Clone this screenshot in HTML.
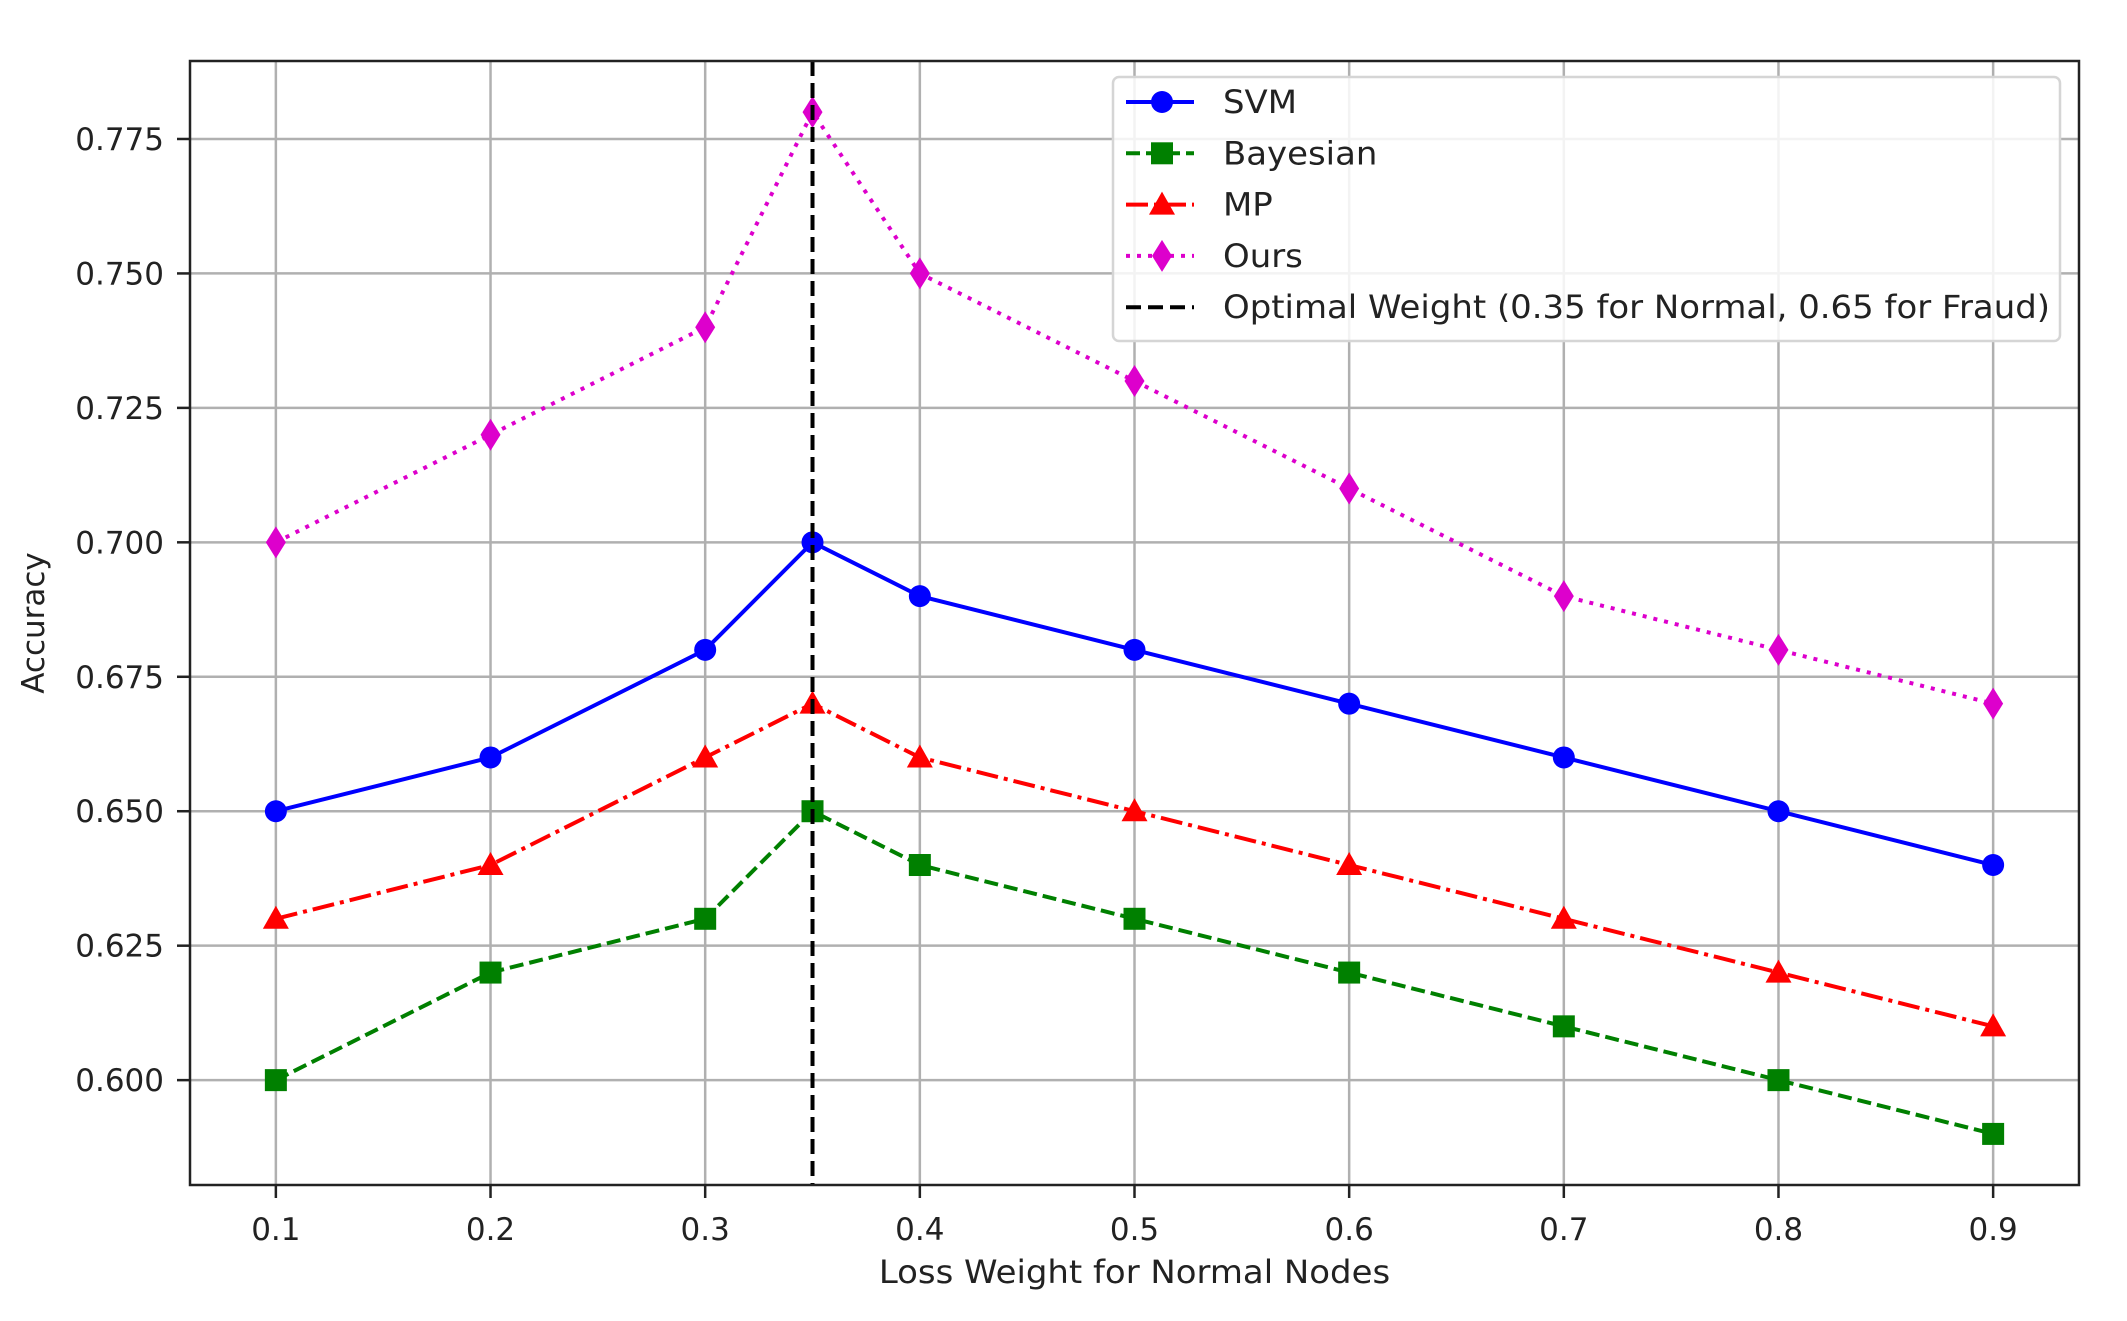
<!DOCTYPE html>
<html><head><meta charset="utf-8"><style>
body{margin:0;background:#fff;}
svg{display:block;font-family:"DejaVu Sans","Liberation Sans",sans-serif;}
</style></head><body>
<svg id="chart" width="2127" height="1321" viewBox="0 0 2127 1321" xmlns="http://www.w3.org/2000/svg">
<g id="grid"></g>
<g id="series"></g>
<g id="axes"></g>
<g id="legend"></g>
</svg>
<script>
const xValues = [0.1,0.2,0.3,0.4,0.5,0.6,0.7,0.8,0.9];
const xPts = [0.1,0.2,0.3,0.35,0.4,0.5,0.6,0.7,0.8,0.9];
const svmValues = [0.65,0.66,0.68,0.70,0.69,0.68,0.67,0.66,0.65,0.64];
const bayesValues = [0.60,0.62,0.63,0.65,0.64,0.63,0.62,0.61,0.60,0.59];
const mpValues = [0.63,0.64,0.66,0.67,0.66,0.65,0.64,0.63,0.62,0.61];
const oursValues = [0.70,0.72,0.74,0.78,0.75,0.73,0.71,0.69,0.68,0.67];
const yTicks = [0.600,0.625,0.650,0.675,0.700,0.725,0.750,0.775];
const xTickLabels = ["0.1","0.2","0.3","0.4","0.5","0.6","0.7","0.8","0.9"];
const yTickLabels = ["0.600","0.625","0.650","0.675","0.700","0.725","0.750","0.775"];
const optimalWeight = 0.35;

const NS="http://www.w3.org/2000/svg";
const L=190,R=2079,T=61,B=1185;
const xMin=0.06,xMax=0.94,yMin=0.5805,yMax=0.7895;
const xs=v=>L+(v-xMin)/(xMax-xMin)*(R-L);
const ys=v=>B-(v-yMin)/(yMax-yMin)*(B-T);
function mk(tag,attrs,parent){const e=document.createElementNS(NS,tag);for(const k in attrs)e.setAttribute(k,attrs[k]);parent.appendChild(e);return e;}
const grid=document.getElementById('grid'),series=document.getElementById('series'),axes=document.getElementById('axes'),legend=document.getElementById('legend');

xValues.forEach((v,i)=>{
  const g=mk('line',{x1:xs(v),x2:xs(v),y1:T,y2:B,stroke:'#b0b0b0','stroke-width':2.5},grid);
  
  
  const t=mk('line',{x1:xs(v),x2:xs(v),y1:B,y2:B+13,stroke:'#222','stroke-width':2.5},axes);
  
  
  const tx=mk('text',{x:xs(v),y:B+55,'text-anchor':'middle','font-size':31,fill:'#222'},axes);
  tx.textContent=xTickLabels[i];
  
  
});
yTicks.forEach((v,i)=>{
  const g=mk('line',{x1:L,x2:R,y1:ys(v),y2:ys(v),stroke:'#b0b0b0','stroke-width':2.5},grid);
  
  
  const t=mk('line',{x1:L-13,x2:L,y1:ys(v),y2:ys(v),stroke:'#222','stroke-width':2.5},axes);
  
  
  const tx=mk('text',{x:L-26,y:ys(v)+11,'text-anchor':'end','font-size':31,fill:'#222'},axes);
  tx.textContent=yTickLabels[i];
  
  
});

function marker(type,cx,cy,color,parent,s){
  s=s||1;let e;
  if(type==='o') e=mk('circle',{cx:cx,cy:cy,r:11*s,fill:color},parent);
  else if(type==='s') e=mk('rect',{x:cx-11*s,y:cy-11*s,width:22*s,height:22*s,fill:color},parent);
  else if(type==='^') e=mk('polygon',{points:`${cx},${cy-13*s} ${cx+13*s},${cy+10*s} ${cx-13*s},${cy+10*s}`,fill:color},parent);
  else e=mk('polygon',{points:`${cx},${cy-16*s} ${cx+10*s},${cy} ${cx},${cy+16*s} ${cx-10*s},${cy}`,fill:color},parent);
  return e;
}
const defs=[
  {name:'SVM',vals:svmValues,color:'#0000ff',dash:'',m:'o'},
  {name:'Bayesian',vals:bayesValues,color:'#008000',dash:'14,6',m:'s'},
  {name:'MP',vals:mpValues,color:'#ff0000',dash:'22,6,4,6',m:'^'},
  {name:'Ours',vals:oursValues,color:'#dd00cc',dash:'4,7',m:'d'}
];
defs.forEach(d=>{
  const g=mk('g',{},series);
  
  
  const pts=xPts.map((x,i)=>xs(x)+','+ys(d.vals[i])).join(' ');
  const pl=mk('polyline',{points:pts,fill:'none',stroke:d.color,'stroke-width':4,'stroke-dasharray':d.dash},g);
  
  
  xPts.forEach((x,i)=>{
    const m=marker(d.m,xs(x),ys(d.vals[i]),d.color,g);
    
    
  });
});
const vl=mk('line',{x1:xs(optimalWeight),x2:xs(optimalWeight),y1:T,y2:B,stroke:'#000','stroke-width':4,'stroke-dasharray':'15,7'},series);



const frame=mk('rect',{x:L,y:T,width:R-L,height:B-T,fill:'none',stroke:'#222','stroke-width':2.5},axes);


const xl=mk('text',{x:(L+R)/2,y:1283,'text-anchor':'middle','font-size':32,fill:'#222'},axes);
xl.textContent='Loss Weight for Normal Nodes';


const xw=xl.getComputedTextLength();
if(xw>0){xl.setAttribute('textLength',xw*1.06);xl.setAttribute('lengthAdjust','spacingAndGlyphs');}
const yl=mk('text',{x:0,y:0,'text-anchor':'middle','font-size':31,fill:'#222',transform:`translate(44,${(T+B)/2}) rotate(-90)`},axes);
yl.textContent='Accuracy';



const lb=mk('rect',{x:1113,y:77,width:947,height:264,rx:6,fill:'rgba(255,255,255,0.85)',stroke:'#d5d5d5','stroke-width':2.5},legend);


const entries=defs.concat([{name:'Optimal Weight (0.35 for Normal, 0.65 for Fraud)',color:'#000',dash:'15,7',m:null}]);
entries.forEach((d,i)=>{
  const y=102+i*51.3;
  const g=mk('g',{},legend);
  
  
  mk('line',{x1:1126,x2:1194,y1:y,y2:y,stroke:d.color,'stroke-width':4,'stroke-dasharray':d.dash},g);
  if(d.m) marker(d.m,1162,y,d.color,g);
  const t=mk('text',{x:1223,y:y+11,'font-size':32,fill:'#222'},g);
  t.textContent=d.name;
  const w=t.getComputedTextLength();
  if(w>0){t.setAttribute('textLength',w*1.06);t.setAttribute('lengthAdjust','spacingAndGlyphs');}
});
</script>
</body></html>
